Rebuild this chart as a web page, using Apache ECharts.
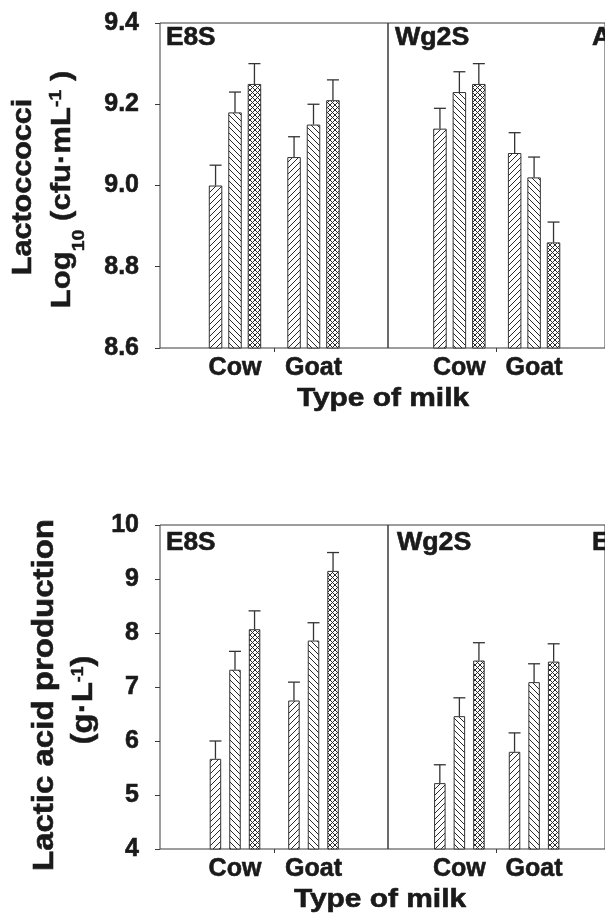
<!DOCTYPE html>
<html>
<head>
<meta charset="utf-8">
<script src="https://cdn.jsdelivr.net/npm/echarts@6/dist/echarts.min.js"></script>
<style>
html,body{margin:0;padding:0;background:#fff;}
#c{width:605px;height:919px;}
</style>
</head>
<body>
<div id="c"></div>
<script>
// ---------------- DATA ----------------
const categories = ['Cow', 'Goat'];
const strains = ['E8S', 'Wg2S'];
const treatments = ['Treatment 1', 'Treatment 2', 'Treatment 3'];
// Lactococci, Log10 (cfu/mL) : rows = treatments, columns = categories
const lactoE8S = [[9.00, 9.07], [9.18, 9.15], [9.25, 9.21]];
const lactoE8SErr = [[0.05, 0.05], [0.05, 0.05], [0.05, 0.05]];
const lactoWg2S = [[9.14, 9.08], [9.23, 9.02], [9.25, 8.86]];
const lactoWg2SErr = [[0.05, 0.05], [0.05, 0.05], [0.05, 0.05]];
// Lactic acid production (g/L)
const lacticE8S = [[5.67, 6.75], [7.32, 7.86], [8.07, 9.15]];
const lacticE8SErr = [[0.33, 0.34], [0.34, 0.33], [0.34, 0.34]];
const lacticWg2S = [[5.22, 5.80], [6.46, 7.09], [7.49, 7.47]];
const lacticWg2SErr = [[0.34, 0.35], [0.34, 0.34], [0.33, 0.33]];
// Tick labels
const lactoTicks = [8.6, 8.8, 9.0, 9.2, 9.4];
const lacticTicks = [4, 5, 6, 7, 8, 9, 10];

// ---------------- STYLE ----------------
const FONT = '"Liberation Sans", Arial, Helvetica, sans-serif';
const INK = '#1a1a1a';
const LINE = '#3a3a3a';
const EMB = 0.6; // slight stroke to embolden text

function hatch(kind) {
  const s = kind === 'x' ? 5 : 6;
  const c = document.createElement('canvas');
  c.width = s; c.height = s;
  const ctx = c.getContext('2d');
  ctx.fillStyle = '#fff';
  ctx.fillRect(0, 0, s, s);
  ctx.strokeStyle = '#2a2a2a';
  ctx.lineWidth = 1;
  ctx.beginPath();
  if (kind === '/' || kind === 'x') {
    ctx.moveTo(0, s); ctx.lineTo(s, 0);
    ctx.moveTo(-1, 1); ctx.lineTo(1, -1);
    ctx.moveTo(s - 1, s + 1); ctx.lineTo(s + 1, s - 1);
  }
  if (kind === '\\' || kind === 'x') {
    ctx.moveTo(0, 0); ctx.lineTo(s, s);
    ctx.moveTo(s - 1, -1); ctx.lineTo(s + 1, 1);
    ctx.moveTo(-1, s - 1); ctx.lineTo(1, s + 1);
  }
  ctx.stroke();
  return { image: c, repeat: 'repeat' };
}
const patterns = [hatch('/'), hatch('\\'), hatch('x')];

const XMIN = 0.0446, XMAX = 2.949;

const panels = [
  { vals: lactoE8S, errs: lactoE8SErr, ticks: lactoTicks, left: 160, top: 23, height: 325, bw: 13.5, gap: 0.44, showY: true, dec: 1 },
  { vals: lactoWg2S, errs: lactoWg2SErr, ticks: lactoTicks, left: 388, top: 23, height: 325, bw: 13.5, gap: 0.44, showY: false, dec: 1 },
  { vals: lacticE8S, errs: lacticE8SErr, ticks: lacticTicks, left: 160, top: 525, height: 324, bw: 11.5, gap: 0.70, showY: true, dec: 0 },
  { vals: lacticWg2S, errs: lacticWg2SErr, ticks: lacticTicks, left: 388, top: 525, height: 324, bw: 11.5, gap: 0.70, showY: false, dec: 0 }
];

const grid = [], xAxis = [], yAxis = [], series = [];
panels.forEach((p, gi) => {
  grid.push({ left: p.left, top: p.top, width: 228, height: p.height, show: true, borderColor: LINE, borderWidth: 1, backgroundColor: 'transparent', containLabel: false });
  xAxis.push({
    type: 'value', gridIndex: gi, min: XMIN, max: XMAX,
    axisLine: { show: false },
    splitLine: { show: false },
    axisTick: { show: true, customValues: [1.5], length: 4, lineStyle: { color: LINE, width: 1 } },
    axisLabel: { show: true, customValues: [1, 2], margin: 8, color: INK, fontSize: 25, fontWeight: 'bold', fontFamily: FONT,
      textBorderColor: INK, textBorderWidth: EMB,
      formatter: v => categories[Math.round(v) - 1] }
  });
  const t = p.ticks;
  const interval = Math.round((t[1] - t[0]) * 1000) / 1000;
  yAxis.push({
    type: 'value', gridIndex: gi, min: t[0], max: t[t.length - 1], interval: interval,
    axisLine: { show: false },
    splitLine: { show: false },
    axisTick: { show: p.showY, length: 5, lineStyle: { color: LINE, width: 1 } },
    axisLabel: { show: p.showY, margin: 21, color: INK, fontSize: 25, fontWeight: 'bold', fontFamily: FONT,
      textBorderColor: INK, textBorderWidth: EMB,
      formatter: v => Number(v).toFixed(p.dec) }
  });
  const errData = [];
  p.vals.forEach((row, k) => {
    series.push({
      type: 'bar', name: treatments[k], xAxisIndex: gi, yAxisIndex: gi,
      barWidth: p.bw, barGap: Math.round(p.gap * 100) + '%',
      clip: true,
      itemStyle: { color: patterns[k], borderColor: '#333', borderWidth: 1 },
      emphasis: { disabled: true },
      data: row.map((v, ci) => [ci + 1, v])
    });
    row.forEach((v, ci) => errData.push([ci + 1, v, p.errs[k][ci], k]));
  });
  const spacing = p.bw * (1 + p.gap);
  series.push({
    type: 'custom', xAxisIndex: gi, yAxisIndex: gi, z: 5,
    encode: { x: 0, y: 1 },
    data: errData,
    renderItem: function (params, api) {
      const x = api.value(0), y = api.value(1), e = api.value(2), k = api.value(3);
      const p0 = api.coord([x, y]);
      const p1 = api.coord([x, y + e]);
      const cx = p0[0] + (k - 1) * spacing;
      const st = { stroke: '#333', lineWidth: 1.3 };
      return {
        type: 'group',
        children: [
          { type: 'line', shape: { x1: cx, y1: p0[1], x2: cx, y2: p1[1] }, style: st },
          { type: 'line', shape: { x1: cx - 6, y1: p1[1], x2: cx + 6, y2: p1[1] }, style: st }
        ]
      };
    }
  });
});

function label(text, x, y, size, sx) {
  return { type: 'text', x: x, y: y, scaleX: sx || 1, z: 10,
    style: { text: text, fill: INK, stroke: INK, lineWidth: EMB, fontSize: size, fontWeight: 'bold', fontFamily: FONT, align: 'left', verticalAlign: 'middle' } };
}
function vtitle(text, x, y, size, sx, rich) {
  const st = { text: text, fill: INK, stroke: INK, lineWidth: EMB, fontSize: size, fontWeight: 'bold', fontFamily: FONT, align: 'center', verticalAlign: 'middle' };
  if (rich) st.rich = rich;
  return { type: 'text', x: x, y: y, rotation: Math.PI / 2, scaleX: sx, z: 10, style: st };
}
function richFor(size, smallSize, subPad, supPad) {
  const base = { fontWeight: 'bold', fontFamily: FONT, fill: INK, stroke: INK, lineWidth: EMB * 0.8 };
  return {
    a: Object.assign({}, base, { fontSize: size, lineHeight: 60 }),
    s: Object.assign({}, base, { fontSize: smallSize, padding: [subPad, 0, 0, 0] }),
    p: Object.assign({}, base, { fontSize: smallSize, padding: [0, 0, supPad, 0] })
  };
}

const graphic = [
  label(strains[0], 166, 38.6, 25, 1.05),
  label(strains[1], 395, 38.6, 25, 1.07),
  label('A', 592, 38.6, 25, 1.05),
  label(strains[0], 166, 543.6, 25, 1.05),
  label(strains[1], 397, 543.6, 25, 1.07),
  label('E', 592, 543.6, 25, 1.05),
  { type: 'text', x: 383, y: 399.3, scaleX: 1.15, z: 10,
    style: { text: 'Type of milk', fill: INK, stroke: INK, lineWidth: EMB, fontSize: 26, fontWeight: 'bold', fontFamily: FONT, align: 'center', verticalAlign: 'middle' } },
  { type: 'text', x: 380, y: 900, scaleX: 1.15, z: 10,
    style: { text: 'Type of milk', fill: INK, stroke: INK, lineWidth: EMB, fontSize: 26, fontWeight: 'bold', fontFamily: FONT, align: 'center', verticalAlign: 'middle' } },
  vtitle('Lactoccocci', 23.6, 187, 27, 1.13),
  vtitle('{a|Log}{s|10}{a| (cfu·mL}{p|-1}{a| )}', 62.6, 189.5, 27, 1.15, richFor(27, 17, 34, 12)),
  vtitle('Lactic acid production', 44.6, 695, 30, 1.1),
  vtitle('{a|(g·L}{p|-1}{a|)}', 83.6, 700, 30, 1.1, richFor(30, 16, 34, 10))
];

const chart = echarts.init(document.getElementById('c'), null, { renderer: 'canvas' });
chart.setOption({
  animation: false,
  backgroundColor: '#fff',
  grid: grid,
  xAxis: xAxis,
  yAxis: yAxis,
  series: series,
  graphic: graphic
});
</script>
</body>
</html>
